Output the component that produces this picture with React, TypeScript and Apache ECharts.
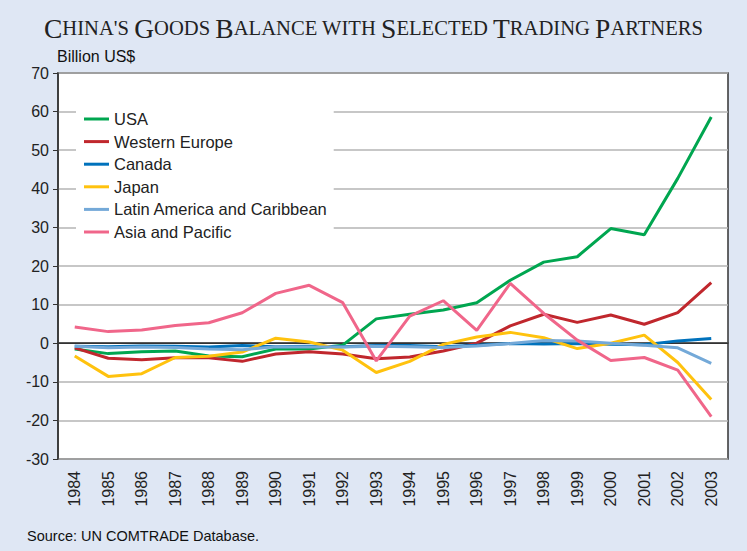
import React, { useEffect, useRef } from "react";
import * as echarts from "echarts";

const years = ["1984","1985","1986","1987","1988","1989","1990","1991","1992","1993","1994","1995","1996","1997","1998","1999","2000","2001","2002","2003"];
const usa = [-1.5, -2.7, -2.2, -2.0, -3.3, -3.5, -1.5, -1.5, -0.5, 6.3, 7.5, 8.6, 10.5, 16.3, 21.0, 22.4, 29.7, 28.1, 42.7, 58.6];
const westernEurope = [-1.2, -3.9, -4.3, -3.8, -3.8, -4.7, -2.8, -2.2, -2.8, -4.0, -3.6, -2.0, 0.0, 4.5, 7.5, 5.4, 7.3, 4.9, 7.9, 15.7];
const canada = [-0.8, -0.9, -0.7, -0.8, -1.0, -0.6, -0.9, -0.8, -0.9, -0.6, -0.6, -0.9, -0.5, -0.1, -0.2, -0.1, -0.3, -0.4, 0.6, 1.2];
const japan = [-3.3, -8.6, -7.9, -3.7, -3.4, -2.3, 1.3, 0.3, -1.8, -7.6, -4.7, -0.3, 1.6, 2.8, 1.4, -1.4, 0.0, 2.1, -5.0, -14.6];
const latinAmerica = [-0.8, -1.2, -1.0, -1.1, -1.5, -1.7, -0.9, -1.0, -1.0, -0.8, -0.9, -1.1, -0.7, -0.1, 0.7, 0.6, 0.0, -0.5, -1.2, -5.2];
const asiaPacific = [4.2, 3.0, 3.4, 4.6, 5.3, 7.9, 12.9, 15.0, 10.5, -4.6, 7.0, 11.0, 3.3, 15.5, 7.7, 0.8, -4.5, -3.7, -7.0, -19.0];

const seriesNames = ["USA", "Western Europe", "Canada", "Japan", "Latin America and Caribbean", "Asia and Pacific"];
const seriesData = [usa, westernEurope, canada, japan, latinAmerica, asiaPacific];
const seriesColors = ["#00a650", "#c0272d", "#0072bc", "#ffc20e", "#74a9d8", "#f0668a"];

export default function App() {
  const ref = useRef<HTMLDivElement>(null);
  useEffect(() => {
    if (!ref.current) return;
    const chart = echarts.init(ref.current, null, { renderer: "svg" });
    const titleRich = "{b|C}{s|HINA'S }{b|G}{s|OODS }{b|B}{s|ALANCE WITH }{b|S}{s|ELECTED }{b|T}{s|RADING }{b|P}{s|ARTNERS}";
    chart.setOption({
      animation: false,
      backgroundColor: "#dfe7f4",
      title: {
        text: titleRich,
        left: "center",
        top: 9,
        textStyle: {
          fontWeight: "normal",
          rich: {
            b: { fontFamily: "Liberation Serif", fontSize: 27.5, fontWeight: "normal", color: "#222" },
            s: { fontFamily: "Liberation Serif", fontSize: 20.6, fontWeight: "normal", color: "#222" },
          },
        },
      },
      graphic: [
        { type: "text", left: 57, top: 48, style: { text: "Billion US$", font: "16px Liberation Sans", fill: "#111" } },
        { type: "text", left: 27, top: 528, style: { text: "Source: UN COMTRADE Database.", font: "14.5px Liberation Sans", fill: "#111" } },
      ],
      legend: {
        orient: "vertical",
        left: 76,
        top: 105,
        data: seriesNames,
        icon: "rect",
        itemWidth: 25,
        itemHeight: 3,
        itemGap: 2.6,
        backgroundColor: "#ffffff",
        padding: [4, 6, 4, 8],
        textStyle: { fontFamily: "Liberation Sans", fontSize: 16.5, color: "#222", lineHeight: 20 },
      },
      grid: {
        left: 58, right: 19, top: 73, bottom: 92,
        show: true, backgroundColor: "#ffffff", borderColor: "#333", borderWidth: 1.5,
      },
      xAxis: {
        type: "category",
        data: years,
        boundaryGap: true,
        axisLine: { show: true, lineStyle: { color: "#333", width: 1.5 } },
        axisTick: { show: false },
        axisLabel: { rotate: 90, fontFamily: "Liberation Sans", fontSize: 16, color: "#222", margin: 12 },
      },
      yAxis: {
        type: "value",
        min: -30, max: 70, interval: 10,
        axisLine: { show: true, lineStyle: { color: "#333", width: 1.5 } },
        axisTick: { show: true, length: 5, lineStyle: { color: "#333" } },
        axisLabel: { fontFamily: "Liberation Sans", fontSize: 16, color: "#222", margin: 9 },
        splitLine: { show: true, lineStyle: { color: "#b5b5b5", width: 1.5 } },
      },
      series: seriesNames.map((name, i) => ({
        name,
        type: "line",
        data: seriesData[i],
        showSymbol: false,
        symbol: "none",
        lineStyle: { color: seriesColors[i], width: 3 },
        itemStyle: { color: seriesColors[i] },
        z: 3 + i,
        markLine: i === 0 ? {
          silent: true, symbol: "none", label: { show: false },
          lineStyle: { color: "#333", width: 1.2, type: "solid" },
          data: [{ yAxis: 0 }],
          z: 1,
        } : undefined,
      })),
    });
    return () => chart.dispose();
  }, []);
  return <div ref={ref} style={{ width: 747, height: 551, position: "absolute", left: 0, top: 0 }} />;
}
